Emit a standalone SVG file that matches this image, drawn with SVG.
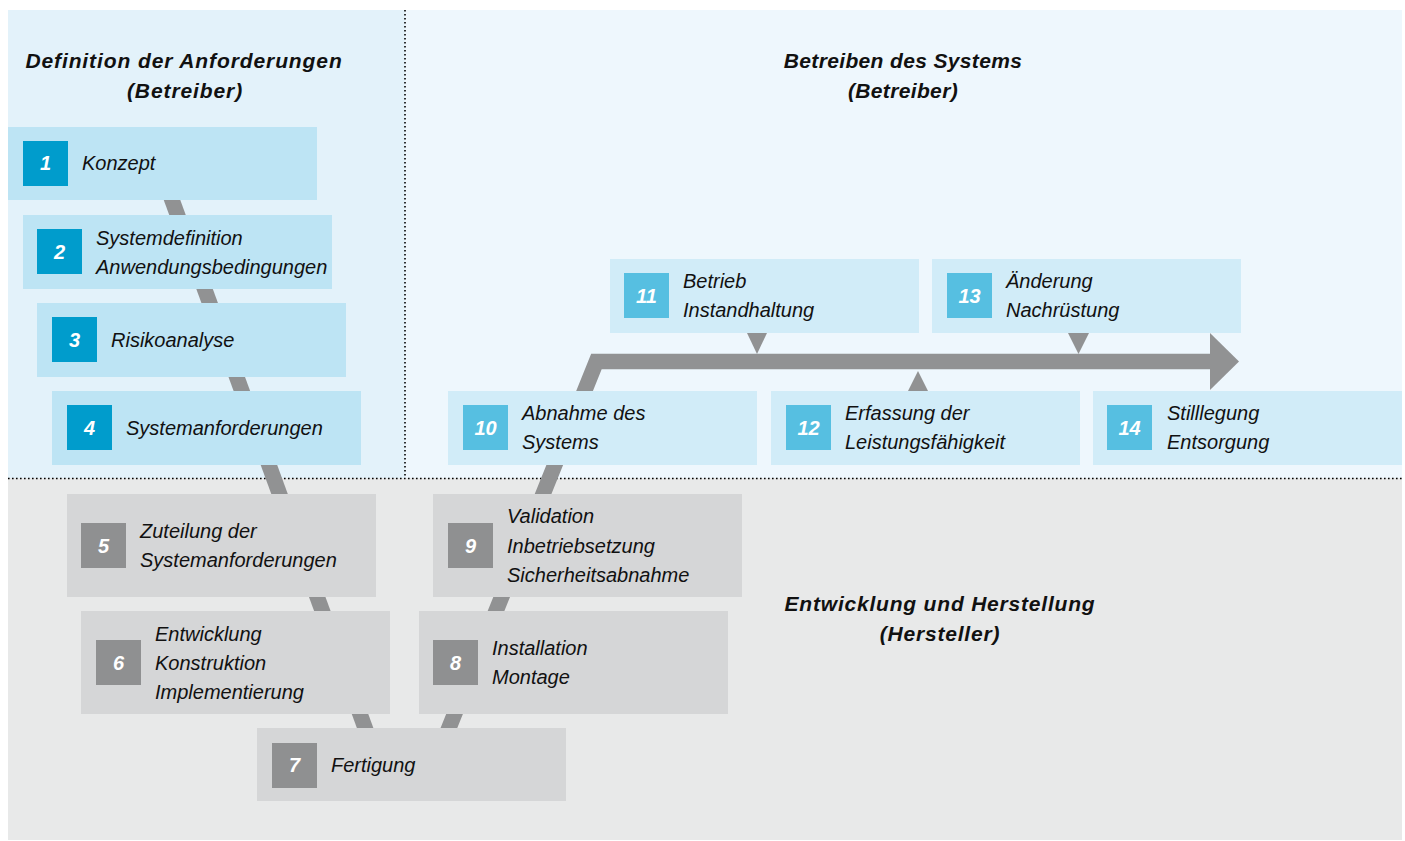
<svg xmlns="http://www.w3.org/2000/svg" width="1405" height="841" viewBox="0 0 1405 841">
<style>
.bgL{fill:#e3f2fa}.bgR{fill:#eef7fd}.bgB{fill:#e8e9e9}
.n1{fill:#bde4f4}.b1{fill:#009ccc}
.n2{fill:#d1ecf8}.b2{fill:#56bfe1}
.n3{fill:#d5d6d7}.b3{fill:#8f9091}
.lbl{font-family:"Liberation Sans",Arial,sans-serif;font-style:italic;font-size:20px;fill:#111}
.num{font-family:"Liberation Sans",Arial,sans-serif;font-style:italic;font-weight:bold;font-size:20px;fill:#fff;text-anchor:middle}
.hdr{font-family:"Liberation Sans",Arial,sans-serif;font-style:italic;font-weight:bold;font-size:21px;fill:#111;text-anchor:middle}
.dot{stroke:#000;stroke-width:1.6;stroke-dasharray:1.6 2.4;fill:none}
.conn{stroke:#919293;stroke-width:15.5;fill:none;stroke-linejoin:miter;stroke-miterlimit:10}
.tri{fill:#919293}
</style>
<g id="background">
<rect class="bgL" x="8" y="10" width="397" height="468"/>
<rect class="bgR" x="405" y="10" width="997" height="468"/>
<rect class="bgB" x="8" y="478" width="1394" height="362"/>
<line class="dot" x1="405" y1="10" x2="405" y2="478"/>
<line class="dot" x1="8" y1="478.5" x2="1402" y2="478.5"/>
</g>
<g id="connectors">
<path class="conn" d="M164.7,180 L380.5,770"/>
<path class="conn" d="M432,770 L596.4,361.5 L1212,361.5"/>
<polygon class="tri" points="1210,333 1239,361.5 1210,390"/>
<polygon class="tri" points="747,333 767,333 757,354"/>
<polygon class="tri" points="1068,333 1089,333 1078.5,354"/>
<polygon class="tri" points="908,391 928,391 918,371"/>
</g>
<g id="node1"><rect class="n1" x="8" y="127" width="309" height="73"/><rect class="b1" x="23" y="141" width="45" height="45"/><text class="num" x="45.5" y="170">1</text><text class="lbl" x="82" y="170">Konzept</text></g>
<g id="node2"><rect class="n1" x="23" y="215" width="309" height="74"/><rect class="b1" x="37" y="229" width="45" height="45"/><text class="num" x="59.5" y="259">2</text><text class="lbl"><tspan x="96" y="245">Systemdefinition</tspan><tspan x="96" y="274">Anwendungsbedingungen</tspan></text></g>
<g id="node3"><rect class="n1" x="37" y="303" width="309" height="74"/><rect class="b1" x="52" y="317" width="45" height="45"/><text class="num" x="74.5" y="347">3</text><text class="lbl" x="111" y="347">Risikoanalyse</text></g>
<g id="node4"><rect class="n1" x="52" y="391" width="309" height="74"/><rect class="b1" x="67" y="405" width="45" height="45"/><text class="num" x="89.5" y="435">4</text><text class="lbl" x="126" y="435">Systemanforderungen</text></g>
<g id="node5"><rect class="n3" x="67" y="494" width="309" height="103"/><rect class="b3" x="81" y="523" width="45" height="45"/><text class="num" x="103.5" y="553">5</text><text class="lbl"><tspan x="140" y="538">Zuteilung der</tspan><tspan x="140" y="567">Systemanforderungen</tspan></text></g>
<g id="node6"><rect class="n3" x="81" y="611" width="309" height="103"/><rect class="b3" x="96" y="640" width="45" height="45"/><text class="num" x="118.5" y="670">6</text><text class="lbl"><tspan x="155" y="641">Entwicklung</tspan><tspan x="155" y="670">Konstruktion</tspan><tspan x="155" y="699">Implementierung</tspan></text></g>
<g id="node7"><rect class="n3" x="257" y="728" width="309" height="73"/><rect class="b3" x="272" y="743" width="45" height="45"/><text class="num" x="294.5" y="772">7</text><text class="lbl" x="331" y="772">Fertigung</text></g>
<g id="node8"><rect class="n3" x="419" y="611" width="309" height="103"/><rect class="b3" x="433" y="640" width="45" height="45"/><text class="num" x="455.5" y="670">8</text><text class="lbl"><tspan x="492" y="655">Installation</tspan><tspan x="492" y="684">Montage</tspan></text></g>
<g id="node9"><rect class="n3" x="433" y="494" width="309" height="103"/><rect class="b3" x="448" y="523" width="45" height="45"/><text class="num" x="470.5" y="553">9</text><text class="lbl"><tspan x="507" y="523">Validation</tspan><tspan x="507" y="553">Inbetriebsetzung</tspan><tspan x="507" y="582">Sicherheitsabnahme</tspan></text></g>
<g id="node10"><rect class="n2" x="448" y="391" width="309" height="74"/><rect class="b2" x="463" y="405" width="45" height="45"/><text class="num" x="485.5" y="435">10</text><text class="lbl"><tspan x="522" y="420">Abnahme des</tspan><tspan x="522" y="449">Systems</tspan></text></g>
<g id="node11"><rect class="n2" x="610" y="259" width="309" height="74"/><rect class="b2" x="624" y="273" width="45" height="45"/><text class="num" x="646.5" y="303">11</text><text class="lbl"><tspan x="683" y="288">Betrieb</tspan><tspan x="683" y="317">Instandhaltung</tspan></text></g>
<g id="node12"><rect class="n2" x="771" y="391" width="309" height="74"/><rect class="b2" x="786" y="405" width="45" height="45"/><text class="num" x="808.5" y="435">12</text><text class="lbl"><tspan x="845" y="420">Erfassung der</tspan><tspan x="845" y="449">Leistungsfähigkeit</tspan></text></g>
<g id="node13"><rect class="n2" x="932" y="259" width="309" height="74"/><rect class="b2" x="947" y="273" width="45" height="45"/><text class="num" x="969.5" y="303">13</text><text class="lbl"><tspan x="1006" y="288">Änderung</tspan><tspan x="1006" y="317">Nachrüstung</tspan></text></g>
<g id="node14"><rect class="n2" x="1093" y="391" width="309" height="74"/><rect class="b2" x="1107" y="405" width="45" height="45"/><text class="num" x="1129.5" y="435">14</text><text class="lbl"><tspan x="1167" y="420">Stilllegung</tspan><tspan x="1167" y="449">Entsorgung</tspan></text></g>
<g id="headers">
<text class="hdr" style="letter-spacing:0.9px"><tspan x="184" y="68">Definition der Anforderungen</tspan><tspan x="185" y="98">(Betreiber)</tspan></text>
<text class="hdr" style="letter-spacing:0.35px"><tspan x="903" y="68">Betreiben des Systems</tspan><tspan x="903" y="98">(Betreiber)</tspan></text>
<text class="hdr" style="letter-spacing:0.8px"><tspan x="940" y="611">Entwicklung und Herstellung</tspan><tspan x="940" y="641">(Hersteller)</tspan></text>
</g>
</svg>
